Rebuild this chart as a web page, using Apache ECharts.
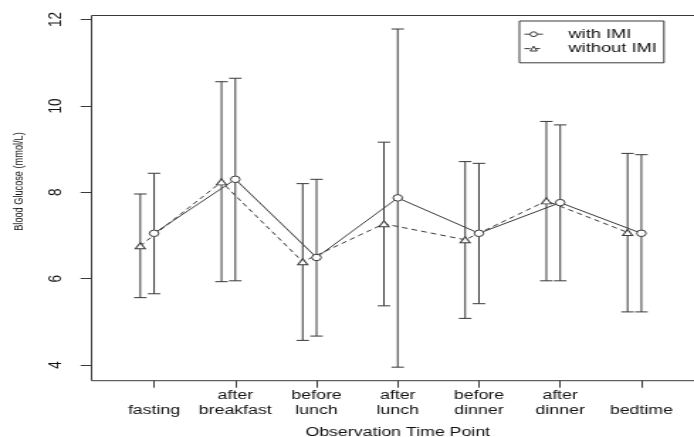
<!DOCTYPE html>
<html>
<head>
<meta charset="utf-8">
<script src="https://cdn.jsdelivr.net/npm/echarts@6/dist/echarts.min.js"></script>
<style>
  html, body { margin: 0; padding: 0; background: #fff; overflow: hidden; }
  #wrap { width: 694px; height: 437px; overflow: hidden; }
  /* the reference picture is stretched horizontally; reproduce that */
  #chart { width: 489px; height: 437px; transform: scaleX(1.41922); transform-origin: 0 0; }
</style>
</head>
<body>
<div id="wrap"><div id="chart"></div></div>
<script>
// ---- data ----
const timePoints = ['fasting', 'after breakfast', 'before lunch', 'after lunch', 'before dinner', 'after dinner', 'bedtime'];
const seriesNames = ['with IMI', 'without IMI'];
const withMean  = [7.05, 8.30, 6.49, 7.87, 7.05, 7.76, 7.05];
const withLow   = [5.65, 5.95, 4.67, 3.95, 5.42, 5.95, 5.23];
const withHigh  = [8.44, 10.64, 8.30, 11.78, 8.67, 9.56, 8.87];
const withoutMean = [6.76, 8.24, 6.39, 7.27, 6.90, 7.80, 7.07];
const withoutLow  = [5.56, 5.93, 4.57, 5.37, 5.08, 5.95, 5.23];
const withoutHigh = [7.96, 10.56, 8.20, 9.16, 8.71, 9.64, 8.90];
const yTicks = [4, 6, 8, 10, 12];
const xTitle = 'Observation Time Point';
const yTitle = 'Blood Glucose (mmol/L)';
const dodge = 0.17; // horizontal offset of the "without IMI" points

// ---- build ----
const xPos = timePoints.map((_, i) => i + 1);
const withX = xPos;
const withoutX = xPos.map(v => v - dodge);

const ink = '#3a3a3a';
const font = 'Liberation Sans, Arial, Helvetica, sans-serif';

function errorBarSeries(xs, lows, highs) {
  return {
    type: 'custom',
    z: 1,
    silent: true,
    data: xs.map((x, i) => [x, lows[i], highs[i]]),
    renderItem: function (params, api) {
      const x = api.value(0);
      const top = api.coord([x, api.value(2)]);
      const bot = api.coord([x, api.value(1)]);
      const cap = 4.4;
      const st = { stroke: ink, lineWidth: 1 };
      return {
        type: 'group',
        children: [
          { type: 'line', shape: { x1: top[0], y1: top[1], x2: bot[0], y2: bot[1] }, style: st },
          { type: 'line', shape: { x1: top[0] - cap, y1: top[1], x2: top[0] + cap, y2: top[1] }, style: st },
          { type: 'line', shape: { x1: bot[0] - cap, y1: bot[1], x2: bot[0] + cap, y2: bot[1] }, style: st }
        ]
      };
    }
  };
}

const chart = echarts.init(document.getElementById('chart'), null, { renderer: 'canvas' });
chart.setOption({
  animation: false,
  backgroundColor: '#fff',
  textStyle: { fontFamily: font },
  grid: {
    left: 64.5, top: 15.5, width: 431.5, height: 365.2,
    outerBoundsMode: 'none',
    containLabel: false,
    show: true, borderColor: ink, borderWidth: 1, backgroundColor: 'transparent'
  },
  legend: {
    data: seriesNames,
    orient: 'vertical',
    left: 366, top: 21,
    itemGap: 0,
    itemWidth: 13, itemHeight: 6,
    padding: [6, 5, 7, 3],
    borderColor: ink, borderWidth: 1,
    itemStyle: { color: '#fff', borderColor: ink, borderWidth: 1 },
    lineStyle: { color: ink, width: 1 },
    textStyle: { fontFamily: font, fontSize: 12.9, color: '#111', lineHeight: 14.4, padding: [0, 0, 0, 13] }
  },
  graphic: [{
    type: 'text',
    x: 13.9, y: 181.5,
    rotation: Math.PI / 2,
    silent: true,
    style: {
      text: yTitle,
      fontFamily: font, fontSize: 9.2,
      fill: '#111',
      align: 'center', verticalAlign: 'middle'
    }
  }],
  xAxis: {
    type: 'value',
    min: 0.23, max: 7.77,
    name: xTitle,
    nameLocation: 'middle',
    nameGap: 45,
    nameTextStyle: { fontFamily: font, fontSize: 12.5, color: '#111' },
    axisLine: { show: false },
    splitLine: { show: false },
    axisTick: { show: true, customValues: xPos, length: 7, lineStyle: { color: ink } },
    axisLabel: {
      customValues: xPos,
      margin: 7.5,
      fontFamily: font, fontSize: 12.5, lineHeight: 14.7, color: '#111',
      formatter: function (v) {
        const name = timePoints[Math.round(v) - 1];
        const words = name.split(' ');
        return words.length === 1 ? '\n' + name : words.join('\n');
      }
    }
  },
  yAxis: {
    type: 'value',
    min: 3.637, max: 12.093,
    axisLine: { show: false },
    splitLine: { show: false },
    axisTick: { show: true, customValues: yTicks, length: 7.7, lineStyle: { color: ink } },
    axisLabel: {
      customValues: yTicks,
      rotate: 90,
      margin: 18,
      fontFamily: font, fontSize: 13.5, color: '#111'
    }
  },
  series: [
    errorBarSeries(withX, withLow, withHigh),
    errorBarSeries(withoutX, withoutLow, withoutHigh),
    {
      name: seriesNames[0],
      type: 'line',
      z: 3,
      data: withX.map((x, i) => [x, withMean[i]]),
      symbol: 'circle',
      symbolSize: 6.5,
      showSymbol: true,
      lineStyle: { color: ink, width: 1, type: 'solid' },
      itemStyle: { color: '#fff', borderColor: ink, borderWidth: 1 }
    },
    {
      name: seriesNames[1],
      type: 'line',
      z: 3,
      data: withoutX.map((x, i) => [x, withoutMean[i]]),
      symbol: 'triangle',
      symbolSize: [7, 6],
      showSymbol: true,
      lineStyle: { color: ink, width: 1, type: [4, 3] },
      itemStyle: { color: '#fff', borderColor: ink, borderWidth: 1 }
    }
  ]
});
</script>
</body>
</html>
